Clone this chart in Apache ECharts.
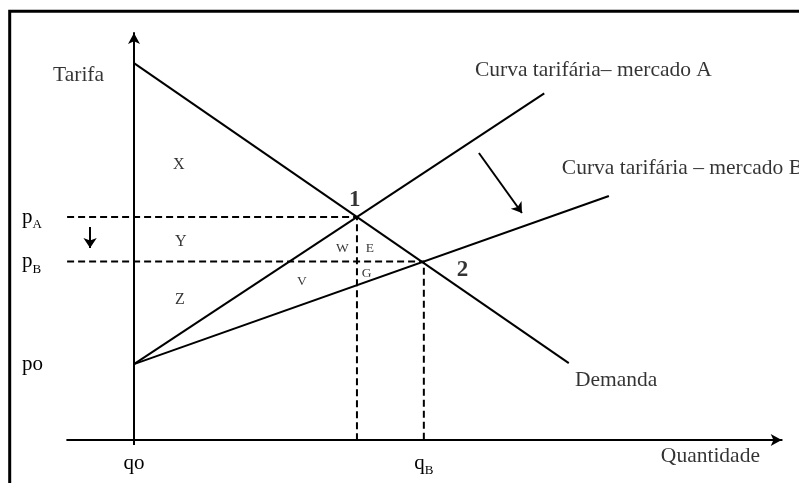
<!DOCTYPE html>
<html>
<head>
<meta charset="utf-8">
<script src="https://cdn.jsdelivr.net/npm/echarts@6/dist/echarts.min.js"></script>
<style>
  html, body { margin: 0; padding: 0; background: #fff; }
  #chart { width: 799px; height: 483px; }
</style>
</head>
<body>
<div id="chart"></div>
<script>
// Axis extents (quantity, tariff)
const qRange = [-3, 29.05];
const pRange = [0, 18.25];

// Curves: [quantity, tariff] end points
const demanda = [[0, 16.9], [19.5, 3.45]];
const curvaA = [[0, 3.4], [18.4, 15.54]];
const curvaB = [[0, 3.4], [21.3, 10.94]];

// Equilibrium prices and quantities
const priceTicks = [3.4, 8, 10];
const priceNames = ['po', 'pB', 'pA'];
const qtyTicks = [0, 13];
const qtyNames = ['qo', 'qB'];
const q1 = 10;

// Dashed guides: from the price axis to each equilibrium, then down to the quantity axis
const guideA = [[qRange[0], 10], [q1, 10], [q1, 0]];
const guideB = [[qRange[0], 8], [13, 8], [13, 0]];

// Shift arrows
const priceDropArrow = [[-1.97, 9.55], [-1.97, 8.61]];
const curveShiftArrow = [[15.47, 12.87], [17.4, 10.18]];

// Text annotations: [text, quantity, tariff] (left edge of the text)
const titles = [
  ['Tarifa', -3.63, 16.35],
  ['Curva tarifária– mercado A', 15.29, 16.57],
  ['Curva tarifária – mercado B', 19.19, 12.2],
  ['Demanda', 19.78, 2.69],
  ['Quantidade', 23.63, -0.74]
];
const bigAreas = [
  ['X', 1.75, 12.33],
  ['Y', 1.84, 8.88],
  ['Z', 1.84, 6.28]
];
const smallAreas = [
  ['W', 9.06, 8.61],
  ['E', 10.40, 8.61],
  ['G', 10.22, 7.49],
  ['V', 7.31, 7.09]
];
const points = [
  ['1', 9.64, 10.76],
  ['2', 14.48, 7.62]
];

const FONT = 'Liberation Serif';
const black = '#000';

function curve(data, dashed) {
  return {
    type: 'line', data: data, symbol: 'none', silent: true,
    lineStyle: { color: black, width: 2, type: dashed ? [7, 4] : 'solid' }
  };
}
function notes(list, size, weight) {
  return {
    type: 'scatter', symbolSize: 0, clip: false, silent: true,
    data: list.map(n => ({ value: [n[1], n[2]], name: n[0] })),
    label: {
      show: true, position: 'right', distance: 0, formatter: '{b}',
      fontFamily: FONT, fontSize: size, fontWeight: weight || 'normal', color: black
    }
  };
}

const chart = echarts.init(document.getElementById('chart'), null, { renderer: 'canvas' });
chart.setOption({
  backgroundColor: '#fff',
  animation: false,
  textStyle: { fontFamily: FONT, color: black },
  grid: { left: 67.1, right: 17.3, top: 33, bottom: 43, containLabel: false, outerBoundsMode: 'none' },
  graphic: [{
    type: 'polyline', silent: true,
    shape: { points: [[9.7, 495], [9.7, 11.2], [815, 11.2]] },
    style: { stroke: black, lineWidth: 3, fill: null }
  }],
  xAxis: {
    type: 'value', min: qRange[0], max: qRange[1],
    splitLine: { show: false },
    axisLine: { show: true, onZero: true, symbol: ['none', 'arrow'], symbolSize: [9, 11],
      lineStyle: { color: black, width: 2 } },
    axisTick: { show: true, customValues: [0], length: 5, lineStyle: { color: black, width: 2 } },
    axisLabel: {
      customValues: qtyTicks, margin: 13.4, verticalAlign: 'top',
      formatter: v => {
        const s = qtyNames[qtyTicks.indexOf(v)];
        return s === 'qo' ? '{m|qo}' : '{m|q}{s|B}';
      },
      rich: {
        m: { fontFamily: FONT, fontSize: 21, lineHeight: 21, verticalAlign: 'top', color: black },
        s: { fontFamily: FONT, fontSize: 13, lineHeight: 13, padding: [11, 0, 0, 0], verticalAlign: 'top', color: black }
      }
    }
  },
  yAxis: {
    type: 'value', min: pRange[0], max: pRange[1],
    splitLine: { show: false },
    axisLine: { show: true, onZero: true, symbol: ['none', 'arrow'], symbolSize: [9, 11],
      lineStyle: { color: black, width: 2 } },
    axisTick: { show: false },
    axisLabel: {
      customValues: priceTicks, margin: 45, align: 'left', verticalAlign: 'middle',
      formatter: v => {
        const s = priceNames[priceTicks.indexOf(v)];
        return s === 'po' ? '{o|po}' : '{m|p}{s|' + s.slice(1) + '}';
      },
      rich: {
        o: { fontFamily: FONT, fontSize: 21, lineHeight: 21, color: black },
        m: { fontFamily: FONT, fontSize: 21, lineHeight: 21, padding: [0, 0, 18, 0], verticalAlign: 'top', color: black },
        s: { fontFamily: FONT, fontSize: 13, lineHeight: 13, padding: [12, 0, 14, 0], verticalAlign: 'top', color: black }
      }
    }
  },
  series: [
    curve(demanda),
    curve(curvaA),
    curve(curvaB),
    curve(guideA, true),
    curve(guideB, true),
    {
      type: 'lines', coordinateSystem: 'cartesian2d', silent: true,
      symbol: ['none', 'arrow'], symbolSize: 10,
      lineStyle: { color: black, width: 2, opacity: 1 },
      data: [{ coords: priceDropArrow }, { coords: curveShiftArrow }]
    },
    notes(titles, 21.5),
    notes(bigAreas, 16),
    notes(smallAreas, 13.5),
    notes(points, 23, 'bold')
  ]
});
</script>
</body>
</html>
